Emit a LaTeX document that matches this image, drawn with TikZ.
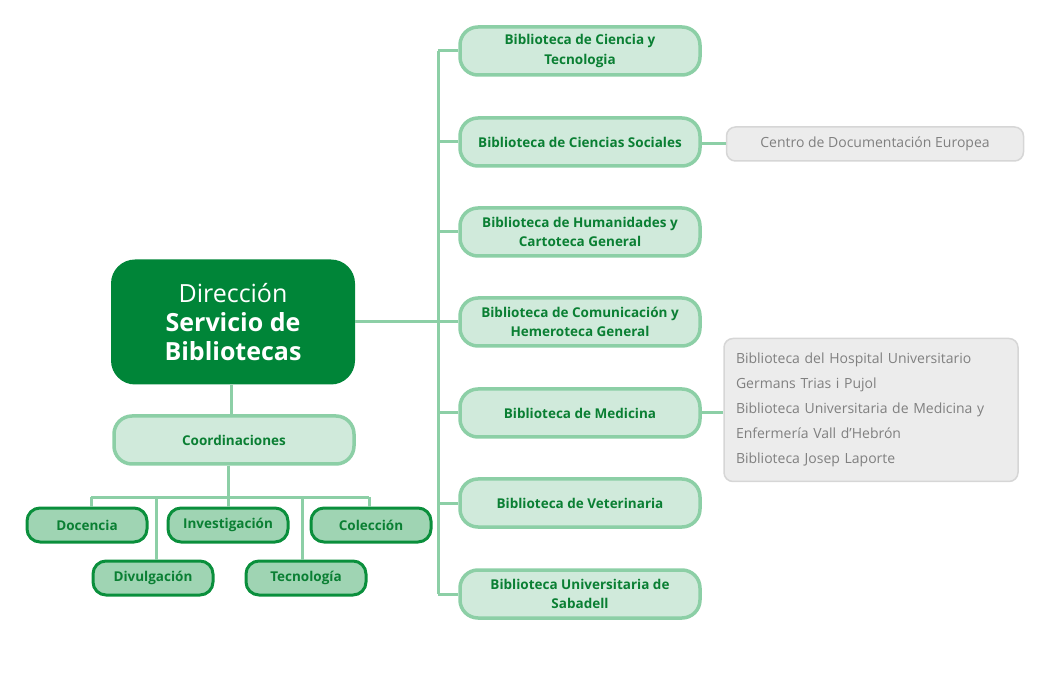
\documentclass[tikz,border=0pt]{standalone}
\usepackage{fontspec}
\setmainfont{Open Sans}
\begin{document}
\begin{tikzpicture}[x=1pt,y=-1pt,
 lib/.style={draw=lgb,fill=lgf,line width=3.5pt,rounded corners=18pt,minimum width=240pt,minimum height=48pt,align=center,font=\fontsize{13.5}{19.5}\selectfont\bfseries,text=dg,inner sep=2pt},
 sub/.style={draw=sgb,fill=sgf,line width=3pt,rounded corners=13pt,minimum width=120pt,minimum height=34pt,font=\fontsize{13.5}{16}\selectfont\bfseries,text=dg},
 grey/.style={draw=gb,fill=gf,line width=1.5pt,rounded corners=9pt,text=gt,font=\fontsize{14}{25}\selectfont},
 conn/.style={draw=lgb,line width=3pt}]
\definecolor{lgb}{HTML}{8CCFA6}\definecolor{lgf}{HTML}{D0EADB}
\definecolor{sgb}{HTML}{0A8F3C}\definecolor{sgf}{HTML}{9FD4B3}
\definecolor{dg}{HTML}{0A7F33}\definecolor{mg}{HTML}{008538}
\definecolor{gb}{HTML}{D6D6D6}\definecolor{gf}{HTML}{ECECEC}\definecolor{gt}{HTML}{808080}
\useasboundingbox (0,0) rectangle (1050,700);
\coordinate (tt) at (438,51);\coordinate (tb) at (438,594);\coordinate (tm) at (438,322);
\draw[conn] (tt)--(tb);
\node[lib] (b1) at (580,51) {Biblioteca de Ciencia y\\Tecnologia};
\node[lib] (b2) at (580,142) {Biblioteca de Ciencias Sociales};
\node[lib] (b3) at (580,232) {Biblioteca de Humanidades y\\Cartoteca General};
\node[lib] (b4) at (580,322) {Biblioteca de Comunicación y\\Hemeroteca General};
\node[lib] (b5) at (580,413) {Biblioteca de Medicina};
\node[lib] (b6) at (580,503) {Biblioteca de Veterinaria};
\node[lib] (b7) at (580,594) {Biblioteca Universitaria de\\Sabadell};
\foreach \i in {1,...,7}{\draw[conn] (b\i.west) -- (b\i.west -| tt);}
\node[fill=mg,rounded corners=24pt,minimum width=244pt,minimum height=125pt,text=white,align=center,font=\fontsize{25}{29}\selectfont] (dir) at (233,322)
 {{\addfontfeature{Weight=300}Dirección}\\{\bfseries Servicio de}\\{\bfseries Bibliotecas}};
\draw[conn] (dir.east) -- (tm);
\node[grey,minimum width=297pt,minimum height=34pt] (c1) at (875,144) {Centro de Documentación Europea};
\draw[conn] (b2.east |- c1) -- (c1.west);
\node[grey,minimum width=294pt,minimum height=143pt,align=left,text width=270pt] (c2) at (871,410)
 {Biblioteca del Hospital Universitario\\Germans Trias i Pujol\\Biblioteca Universitaria de Medicina y\\Enfermería Vall d’Hebrón\\Biblioteca Josep Laporte};
\draw[conn] (b5.east) -- (c2.west |- b5);
\node[lib,minimum width=240pt] (co) at (234,440) {Coordinaciones};
\coordinate (h1) at (91,497);\coordinate (h2) at (369,497);\coordinate (hc) at (228,497);
\node[sub] (s1) at (87,525) {Docencia};
\node[sub] (s2) at (228,525) {Investigación};
\node[sub] (s3) at (371,525) {Colección};
\node[sub] (s4) at (153,578) {Divulgación};
\node[sub] (s5) at (306,578) {Tecnología};
\draw[conn] (dir.south -| 231,0) -- (co.north -| 231,0);
\draw[conn] (co.south -| hc) -- (hc);
\draw[conn] (h1) -- (h2);
\draw[conn] (h1) -- (h1 |- s1.north);
\draw[conn] (h2) -- (h2 |- s3.north);
\draw[conn] (hc) -- (s2.north);
\draw[conn] (156,497) -- (156,0 |- s4.north);
\draw[conn] (302,497) -- (302,0 |- s5.north);
\end{tikzpicture}
\end{document}
